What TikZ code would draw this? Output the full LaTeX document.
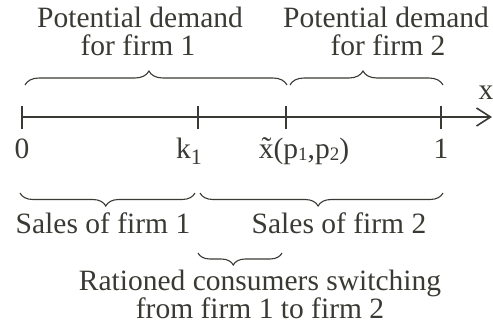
\documentclass[tikz,border=0pt]{standalone}
\usepackage{fontspec}
\setmainfont{Liberation Serif}
\usetikzlibrary{decorations.pathreplacing,arrows.meta}
\definecolor{ink}{RGB}{58,58,52}
\begin{document}
\begin{tikzpicture}[x=1pt,y=-1pt,
  lbl/.style={anchor=base,inner sep=0pt,text=ink,font=\fontsize{29.5}{34}\selectfont},
  axisline/.style={draw=ink,line width=1.6pt},
  tickline/.style={draw=ink,line width=1.6pt},
  bracestyle/.style={draw=ink,line width=1.1pt,decorate,decoration={brace,amplitude=#1}},
  bracestyle/.default=14pt]
\useasboundingbox (0,0) rectangle (493,325);
% axis coordinates
\coordinate (t0) at (22,117);
\coordinate (tk) at (198,117);
\coordinate (tx) at (286,117);
\coordinate (t1) at (441,117);
\coordinate (tend) at (492,117);
\draw[axisline,-{Straight Barb[length=14pt,width=18pt,line width=1.6pt]}] (t0) -- (tend);
\foreach \t in {t0,tk,tx,t1}
  \draw[tickline] ([yshift=11pt]\t) -- ([yshift=-12pt]\t);
% axis labels
\node[lbl] (l0) at (22,158) {0};
\node[lbl] (lk) at (189,158) {k\raisebox{-6pt}{\fontsize{22}{22}\selectfont 1}};
\node[lbl] (lx) at (304,158) {\~{x}(p\raisebox{-2pt}{\fontsize{19}{19}\selectfont 1},p\raisebox{-2pt}{\fontsize{19}{19}\selectfont 2})};
\node[lbl] (l1) at (441,158) {1};
\node[lbl] (xl) at (486,99) {x};
% top labels
\node[lbl] (pd1a) at (140,27) {Potential demand};
\node[lbl] (pd1b) at (138,55) {for firm 1};
\node[lbl] (pd2a) at (386,27) {Potential demand};
\node[lbl] (pd2b) at (388,55) {for firm 2};
% top braces
\coordinate (b1s) at (25,85);
\coordinate (b1e) at (287,85);
\coordinate (b2s) at (290,85);
\coordinate (b2e) at (443,85);
\draw[bracestyle=14pt,decoration={aspect=0.473}] (b1s) -- (b1e);
\draw[bracestyle=14pt,decoration={aspect=0.477}] (b2s) -- (b2e);
% lower braces
\coordinate (c1s) at (20,193);
\coordinate (c1e) at (195,193);
\coordinate (c2s) at (200,193);
\coordinate (c2e) at (443,193);
\draw[bracestyle=13pt,decoration={mirror,aspect=0.49}] (c1s) -- (c1e);
\draw[bracestyle=13pt,decoration={mirror,aspect=0.486}] (c2s) -- (c2e);
\node[lbl] (s1) at (103,233) {Sales of firm 1};
\node[lbl] (s2) at (339,233) {Sales of firm 2};
% small brace
\coordinate (d1s) at (198,253);
\coordinate (d1e) at (282,253);
\draw[bracestyle=12pt,decoration={mirror,aspect=0.42}] (d1s) -- (d1e);
\node[lbl] (r1) at (260,290) {Rationed consumers switching};
\node[lbl] (r2) at (260,318) {from firm 1 to firm 2};
\end{tikzpicture}
\end{document}
